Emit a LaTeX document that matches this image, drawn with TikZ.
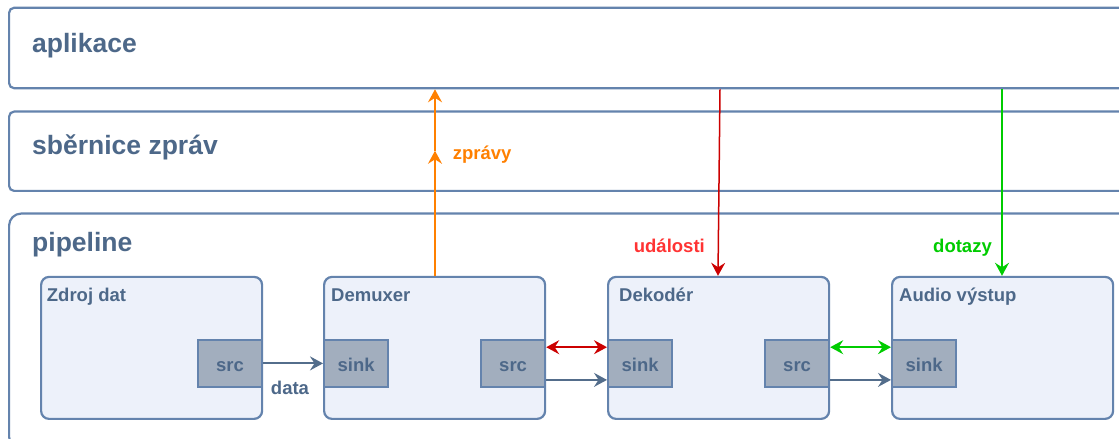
\documentclass[tikz,border=0pt]{standalone}
\usepackage{fontspec}
\setmainfont{Liberation Sans}
\usetikzlibrary{arrows.meta,calc}
\definecolor{txt}{HTML}{4D6889}
\definecolor{edge}{HTML}{6483AD}
\definecolor{blockfill}{HTML}{EDF1FA}
\definecolor{portfill}{HTML}{A2AEBE}
\definecolor{orng}{HTML}{FF8000}
\definecolor{redarr}{HTML}{CC0000}
\definecolor{redtxt}{HTML}{FF3333}
\definecolor{grn}{HTML}{00CC00}
\definecolor{grayarr}{HTML}{536D8B}
\begin{document}
\begin{tikzpicture}[x=1pt,y=1pt,
  >={Stealth[length=13pt,width=14pt,inset=4.5pt]},
  layerbox/.style={draw=edge,line width=2.2pt,rounded corners=5pt,fill=white,inner sep=0pt,anchor=south west,minimum width=1122pt},
  blockbox/.style={draw=edge,line width=2.2pt,rounded corners=8pt,fill=blockfill,inner sep=0pt,anchor=south west,minimum width=221pt,minimum height=142pt},
  portbox/.style={draw=edge,line width=2.2pt,fill=portfill,inner sep=0pt,anchor=south west,minimum width=64pt,minimum height=47pt,text height=17pt,text depth=0pt,text=txt,font=\fontsize{18.5}{22}\selectfont\bfseries},
  bigtitle/.style={text=txt,font=\fontsize{26.5}{30}\selectfont\bfseries,inner sep=0pt,anchor=base west},
  smalltitle/.style={text=txt,font=\fontsize{18.5}{22}\selectfont\bfseries,inner sep=0pt,anchor=base west},
  lbl/.style={font=\fontsize{18.5}{22}\selectfont\bfseries,inner sep=0pt},
]
\useasboundingbox (0,0) rectangle (1119,439);
\fill[white] (0,0) rectangle (1119,439);

% layers
\node[layerbox,minimum height=80.4pt] (app) at (8,349.7) {};
\node[layerbox,minimum height=79.3pt] (bus) at (8,247) {};
\node[layerbox,minimum height=235.3pt,rounded corners=12pt] (pipe) at (8,-11) {};
\node[bigtitle] (tapp) at (32,386) {aplikace};
\node[bigtitle] (tbus) at (32,284) {sběrnice zpráv};
\node[bigtitle] (tpipe) at (32,187.3) {pipeline};

% blocks
\node[blockbox] (zdroj) at (40,19) {};
\node[blockbox] (demux) at (323,19) {};
\node[blockbox] (dek) at (607,19) {};
\node[blockbox] (audio) at (891,19) {};
\node[smalltitle] (tzdroj) at (46.7,137.3) {Zdroj dat};
\node[smalltitle] (tdemux) at (331,137.3) {Demuxer};
\node[smalltitle] (tdek) at (619,137.3) {Dekodér};
\node[smalltitle] (taudio) at (899,137.3) {Audio výstup};

% ports
\node[portbox] (zsrc) at (197,51) {src};
\node[portbox] (dmsink) at (323,51) {sink};
\node[portbox] (dmsrc) at (480,51) {src};
\node[portbox] (dksink) at (607,51) {sink};
\node[portbox] (dksrc) at (764,51) {src};
\node[portbox] (ausink) at (891,51) {sink};

% data flow
\draw[grayarr,line width=2pt,->] (zsrc.east) -- (dmsink.west);
\node[lbl,text=txt,anchor=base] (tdata) at (290,44) {data};
\draw[grayarr,line width=1.4pt,->] ([yshift=-16.5pt]dmsrc.east) -- ([yshift=-16.5pt]dksink.west);
\draw[grayarr,line width=1.4pt,->] ([yshift=-16.5pt]dksrc.east) -- ([yshift=-16.5pt]ausink.west);

% bidirectional events / queries
\draw[redarr,line width=1.5pt,<->] ([yshift=16.2pt]dmsrc.east) -- ([yshift=16.2pt]dksink.west);
\draw[grn,line width=1.8pt,<->] ([yshift=16.2pt]dksrc.east) -- ([yshift=16.2pt]ausink.west);

% messages up
\coordinate (zstart) at ($(demux.north west)+(112,0)$);
\coordinate (zmid) at ($(zstart)+(0,125)$);
\draw[orng,line width=2pt,->] (zstart) -- (zmid);
\draw[orng,line width=2pt,->] (zmid) -- (zmid |- app.south);
\node[lbl,text=orng,anchor=base west] (tzpr) at (452.7,279) {zprávy};

% events down
\coordinate (ustart) at ($(app.south west)+(712,0)$);
\coordinate (uend) at ($(dek.north west)+(111,0)$);
\draw[redarr,line width=1.5pt,->] (ustart) -- (uend);
\node[lbl,text=redtxt,anchor=base east] (tud) at (705,186) {události};

% queries down
\coordinate (dstart) at ($(app.south west)+(994,0)$);
\coordinate (dend) at ($(audio.north west)+(111,0)$);
\draw[grn,line width=1.8pt,->] (dstart) -- (dend);
\node[lbl,text=grn,anchor=base east] (tdot) at (992,186) {dotazy};
\end{tikzpicture}
\end{document}
